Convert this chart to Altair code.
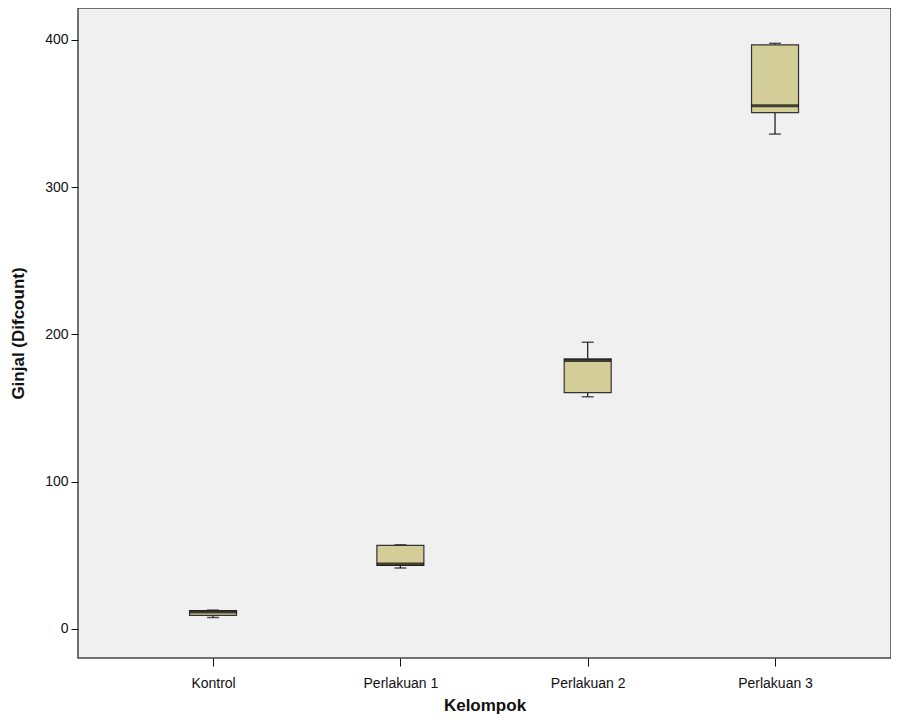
import altair as alt
import pandas as pd

categories = ["Kontrol", "Perlakuan 1", "Perlakuan 2", "Perlakuan 3"]
mins = [7.8, 41.4, 157.6, 336.0]
q1s = [9.2, 43.1, 160.5, 350.6]
medians = [11.5, 44.1, 182.3, 355.2]
q3s = [12.5, 56.7, 183.4, 396.6]
maxs = [12.8, 57.2, 194.7, 397.6]
y_ticks = [0, 100, 200, 300, 400]

df = pd.DataFrame({
    "Kelompok": categories,
    "min": mins,
    "q1": q1s,
    "median": medians,
    "q3": q3s,
    "max": maxs,
})

FONT = "Liberation Sans, Arial, sans-serif"
NARROW = "Liberation Sans Narrow, Arial Narrow, Liberation Sans, sans-serif"

x_enc = alt.X(
    "Kelompok:N",
    sort=categories,
    scale=alt.Scale(type="point", padding=0.670, align=0.538),
    axis=alt.Axis(
        title="Kelompok",
        labelAngle=0,
        labelFont=NARROW,
        labelFontSize=14,
        labelColor="#111",
        labelPadding=10,
        tickSize=8,
        tickColor="#111",
        domain=False,
        titleFont=FONT,
        titleFontSize=17,
        titleFontWeight="bold",
        titleColor="#111",
        titleBaseline="alphabetic",
        titleY=52,
    ),
)

y_scale = alt.Scale(domain=[-19.7, 421.6], nice=False, zero=False)
y_axis = alt.Axis(
    title="Ginjal (Difcount)",
    values=y_ticks,
    grid=False,
    domain=False,
    tickSize=7,
    tickColor="#111",
    labelFont=FONT,
    labelFontSize=14,
    labelColor="#111",
    labelPadding=3,
    titleFont=FONT,
    titleFontSize=17,
    titleFontWeight="bold",
    titleColor="#111",
    titlePadding=17,
)

base = alt.Chart(df)

whisker = base.mark_rule(color="#111", strokeWidth=1.2).encode(
    x=x_enc,
    y=alt.Y("min:Q", scale=y_scale, axis=y_axis),
    y2="max:Q",
)

cap_low = base.mark_tick(color="#111", thickness=1.5, size=12).encode(
    x=x_enc, y=alt.Y("min:Q", scale=y_scale)
)
cap_high = base.mark_tick(color="#111", thickness=1.5, size=12).encode(
    x=x_enc, y=alt.Y("max:Q", scale=y_scale)
)

box = base.mark_bar(
    size=47, fill="#D3CE98", stroke="#333333", strokeWidth=1.2
).encode(
    x=x_enc,
    y=alt.Y("q1:Q", scale=y_scale),
    y2="q3:Q",
)

median = base.mark_tick(color="#000000", thickness=3, size=47).encode(
    x=x_enc, y=alt.Y("median:Q", scale=y_scale)
)

chart = (
    alt.layer(whisker, cap_low, cap_high, box, median)
    .properties(
        width=813,
        height=650,
        background="white",
        autosize=alt.AutoSizeParams(type="none"),
        padding={"left": 70, "top": 0, "right": 0, "bottom": 57},
    )
    .configure_view(fill="#F0F0F0", stroke="#444444", strokeWidth=1.5)
)

chart.save("out.html", embed_options={"renderer": "svg", "actions": False})
